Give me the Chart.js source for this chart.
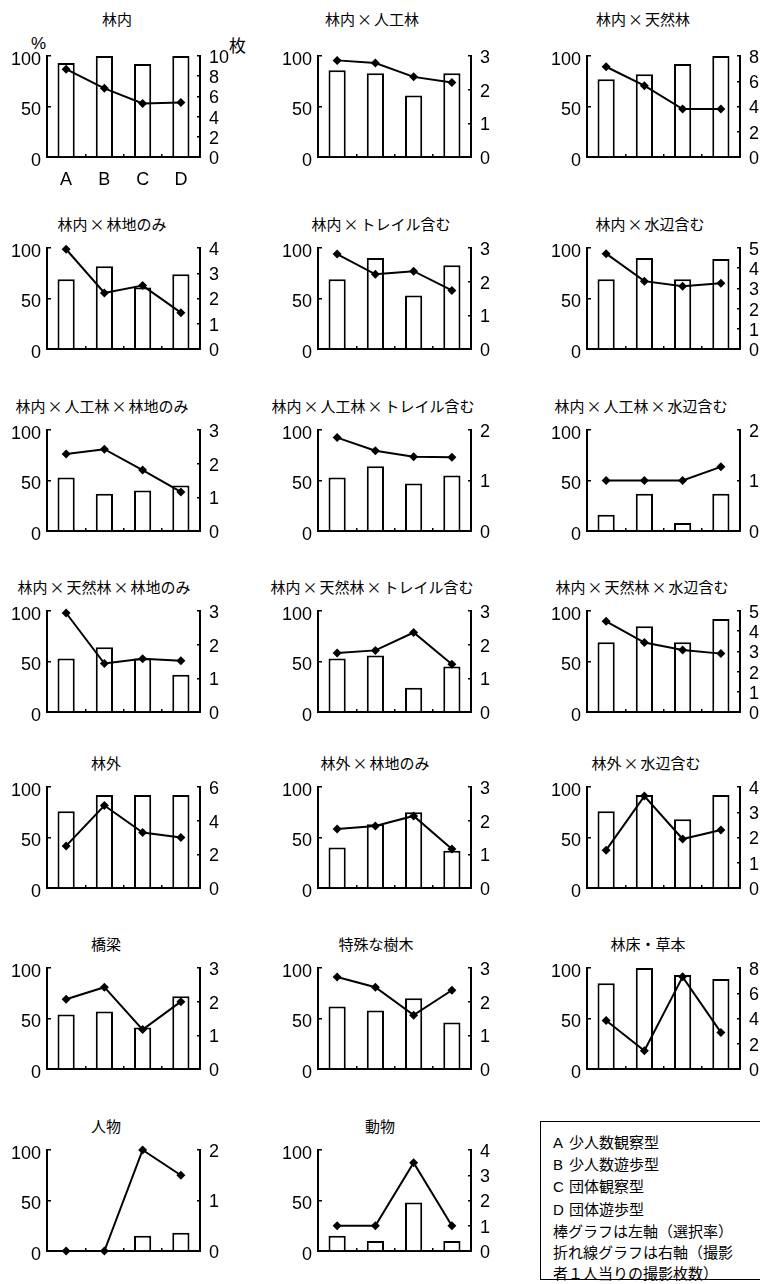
<!DOCTYPE html>
<html>
<head>
<meta charset="utf-8">
<script src="https://cdn.jsdelivr.net/npm/chart.js@4/dist/chart.umd.min.js"></script>
<style>
  html, body { margin: 0; padding: 0; background: #fff; overflow: hidden; }
  #page { position: relative; width: 760px; height: 1284px; overflow: hidden; background: #fff; }
  .panel { position: absolute; }
  .ttl { position: absolute; font: 15px "Noto Sans CJK JP"; color: #000; white-space: nowrap; transform: translate(-50%, -50%); }
  .ttl .x { margin: 0 2px; }
  .unit { position: absolute; font: 17px "Liberation Sans", "Noto Sans CJK JP"; color: #000; transform: translateY(-50%); }
  #legend { position: absolute; left: 540px; top: 1121px; width: 240px; height: 159px; border: 1.5px solid #000;
            box-sizing: border-box; padding: 9px 0 0 12px; font: 15px "Noto Sans CJK JP"; line-height: 21.2px; color: #000; }
  #legend .k { display: inline-block; width: 16px; font-family: "Liberation Sans", sans-serif; }
</style>
</head>
<body>
<div id="page">
  <div class="unit" style="left:31px; top:44px;">%</div>
  <div class="unit" style="left:229px; top:44px; font-family:'Noto Sans CJK JP';">枚</div>
  <div id="legend">
    <div><span class="k">A</span>少人数観察型</div>
    <div><span class="k">B</span>少人数遊歩型</div>
    <div><span class="k">C</span>団体観察型</div>
    <div><span class="k">D</span>団体遊歩型</div>
    <div>棒グラフは左軸（選択率）</div>
    <div>折れ線グラフは右軸（撮影</div>
    <div>者１人当りの撮影枚数）</div>
  </div>
</div>
<script>
// Categories: A 少人数観察型, B 少人数遊歩型, C 団体観察型, D 団体遊歩型
const categories = ['A', 'B', 'C', 'D'];
const rateTicks = [0, 50, 100];

// 選択率 (%) — bars, left axis
const rateRinnai          = [93, 100, 92, 100];
const rateRinnaiPlant     = [86, 83, 61, 83];
const rateRinnaiNatural   = [77, 82, 92, 100];
const rateRinnaiGround    = [69, 82, 61, 74];
const rateRinnaiTrail     = [69, 90, 53, 83];
const rateRinnaiWater     = [69, 90, 69, 89];
const ratePlantGround     = [53, 37, 40, 45];
const ratePlantTrail      = [53, 64, 47, 55];
const ratePlantWater      = [16, 37, 8, 37];
const rateNaturalGround   = [53, 64, 53, 37];
const rateNaturalTrail    = [53, 56, 24, 45];
const rateNaturalWater    = [69, 85, 69, 92];
const rateRingai          = [76, 92, 92, 92];
const rateRingaiGround    = [40, 63, 75, 37];
const rateRingaiWater     = [76, 92, 68, 92];
const rateBridge          = [54, 57, 41, 72];
const rateSpecialTree     = [62, 58, 70, 46];
const rateFloorPlants     = [85, 100, 93, 89];
const ratePeople          = [0, 0, 15, 18];
const rateAnimals         = [15, 10, 48, 10];

// 撮影者1人当りの撮影枚数 (枚) — line, right axis
const shotsRinnai          = [8.7, 6.8, 5.3, 5.4];
const shotsRinnaiPlant     = [2.87, 2.79, 2.38, 2.21];
const shotsRinnaiNatural   = [7.15, 5.65, 3.8, 3.8];
const shotsRinnaiGround    = [3.95, 2.22, 2.51, 1.44];
const shotsRinnaiTrail     = [2.82, 2.22, 2.31, 1.74];
const shotsRinnaiWater     = [4.72, 3.36, 3.11, 3.26];
const shotsPlantGround     = [2.29, 2.43, 1.81, 1.16];
const shotsPlantTrail      = [1.85, 1.59, 1.47, 1.46];
const shotsPlantWater      = [1.0, 1.0, 1.0, 1.27];
const shotsNaturalGround   = [2.94, 1.44, 1.58, 1.52];
const shotsNaturalTrail    = [1.75, 1.83, 2.36, 1.42];
const shotsNaturalWater    = [4.49, 3.44, 3.07, 2.89];
const shotsRingai          = [2.5, 4.9, 3.3, 3.0];
const shotsRingaiGround    = [1.75, 1.84, 2.14, 1.16];
const shotsRingaiWater     = [1.5, 3.64, 1.94, 2.3];
const shotsBridge          = [2.07, 2.43, 1.17, 2.0];
const shotsSpecialTree     = [2.73, 2.43, 1.6, 2.34];
const shotsFloorPlants     = [3.84, 1.44, 7.3, 2.9];
const shotsPeople          = [0, 0, 2.0, 1.5];
const shotsAnimals         = [1, 1, 3.5, 1];

const panelTitles = [
  '林内', '林内×人工林', '林内×天然林',
  '林内×林地のみ', '林内×トレイル含む', '林内×水辺含む',
  '林内×人工林×林地のみ', '林内×人工林×トレイル含む', '林内×人工林×水辺含む',
  '林内×天然林×林地のみ', '林内×天然林×トレイル含む', '林内×天然林×水辺含む',
  '林外', '林外×林地のみ', '林外×水辺含む',
  '橋梁', '特殊な樹木', '林床・草本',
  '人物', '動物'
];
// right-axis tick range per panel
const shotAxisMax  = [10, 3, 8, 4, 3, 5, 3, 2, 2, 3, 3, 5, 6, 3, 4, 3, 3, 8, 2, 4];
const shotAxisStep = [2, 1, 2, 1, 1, 1, 1, 1, 1, 1, 1, 1, 2, 1, 1, 1, 1, 2, 1, 1];

const rateSeries = [rateRinnai, rateRinnaiPlant, rateRinnaiNatural, rateRinnaiGround, rateRinnaiTrail,
  rateRinnaiWater, ratePlantGround, ratePlantTrail, ratePlantWater, rateNaturalGround, rateNaturalTrail,
  rateNaturalWater, rateRingai, rateRingaiGround, rateRingaiWater, rateBridge, rateSpecialTree,
  rateFloorPlants, ratePeople, rateAnimals];
const shotSeries = [shotsRinnai, shotsRinnaiPlant, shotsRinnaiNatural, shotsRinnaiGround, shotsRinnaiTrail,
  shotsRinnaiWater, shotsPlantGround, shotsPlantTrail, shotsPlantWater, shotsNaturalGround, shotsNaturalTrail,
  shotsNaturalWater, shotsRingai, shotsRingaiGround, shotsRingaiWater, shotsBridge, shotsSpecialTree,
  shotsFloorPlants, shotsPeople, shotsAnimals];

// grid geometry (plot-area left edges per column, top edges per row)
const colPlotLeft = [47, 318, 587];
const rowPlotTop = [56, 248, 430, 611, 787, 968, 1150];
const titleCenterX = [117, 372, 643, 112, 381, 650, 102, 373, 641, 104, 372, 642, 106, 375, 646, 106, 376, 648, 106, 380];
const plotW = 153, plotH = 101, leftW = 47, rightW = 40, padTop = 26, bottomH = 30;

Chart.defaults.font.family = '"Liberation Sans", Arial, sans-serif';
Chart.defaults.color = '#000';

const page = document.getElementById('page');
const tickFont = { family: '"Liberation Sans", Arial, sans-serif', size: 18 };

panelTitles.forEach((title, i) => {
  const col = i % 3, row = Math.floor(i / 3);
  const pl = colPlotLeft[col], pt = rowPlotTop[row];

  const t = document.createElement('div');
  t.className = 'ttl';
  title.split('×').forEach((part, k) => {
    if (k > 0) {
      const s = document.createElement('span');
      s.className = 'x';
      s.textContent = '×';
      t.appendChild(s);
    }
    t.appendChild(document.createTextNode(part));
  });
  t.style.left = titleCenterX[i] + 'px';
  t.style.top = (row === 0 ? 18 : pt - 25) + 'px';
  page.appendChild(t);

  const cv = document.createElement('canvas');
  cv.className = 'panel';
  const w = leftW + plotW + rightW, h = padTop + plotH + bottomH;
  cv.width = w; cv.height = h;
  cv.style.left = (pl - leftW) + 'px';
  cv.style.top = (pt - padTop) + 'px';
  cv.style.width = w + 'px'; cv.style.height = h + 'px';
  page.appendChild(cv);

  const axisBorder = { display: true, color: '#000', width: 2 };
  new Chart(cv, {
    type: 'bar',
    data: {
      labels: categories,
      datasets: [
        {
          type: 'line', data: shotSeries[i], yAxisID: 'y1', order: 0,
          borderColor: '#000', borderWidth: 2, tension: 0, clip: false,
          pointStyle: 'rectRot', pointRadius: 4.5, pointBackgroundColor: '#000',
          pointBorderColor: '#000', pointBorderWidth: 0
        },
        {
          type: 'bar', data: rateSeries[i], yAxisID: 'y', order: 1,
          backgroundColor: '#fff', borderColor: '#000', borderWidth: 2,
          categoryPercentage: 1, barPercentage: 0.45
        }
      ]
    },
    options: {
      responsive: false, animation: false, events: [],
      layout: { padding: { top: padTop, left: 0, right: 0, bottom: 0 } },
      plugins: { legend: { display: false }, tooltip: { enabled: false }, title: { display: false } },
      scales: {
        x: {
          position: 'bottom', offset: true,
          grid: { display: true, drawOnChartArea: false, offset: true, tickLength: -3, color: '#000', lineWidth: 1.5 },
          border: axisBorder,
          ticks: { display: i === 0, padding: 15, color: '#000', font: tickFont, maxRotation: 0 },
          afterFit(s) { s.height = bottomH; }
        },
        y: {
          position: 'left', min: 0, max: 100,
          afterBuildTicks(s) { s.ticks = rateTicks.map(v => ({ value: v })); },
          grid: { display: true, drawOnChartArea: false, tickLength: -4, color: '#000', lineWidth: 1.5 },
          border: axisBorder,
          ticks: { padding: 10, labelOffset: 4, autoSkip: false, color: '#000', font: tickFont },
          afterFit(s) { s.width = leftW; }
        },
        y1: {
          position: 'right', min: 0, max: shotAxisMax[i],
          grid: { display: true, drawOnChartArea: false, tickLength: -3, color: '#000', lineWidth: 1.5 },
          border: axisBorder,
          ticks: { stepSize: shotAxisStep[i], padding: 12, labelOffset: 2, autoSkip: false, color: '#000', font: tickFont },
          afterFit(s) { s.width = rightW; }
        }
      }
    }
  });
});
</script>
</body>
</html>
